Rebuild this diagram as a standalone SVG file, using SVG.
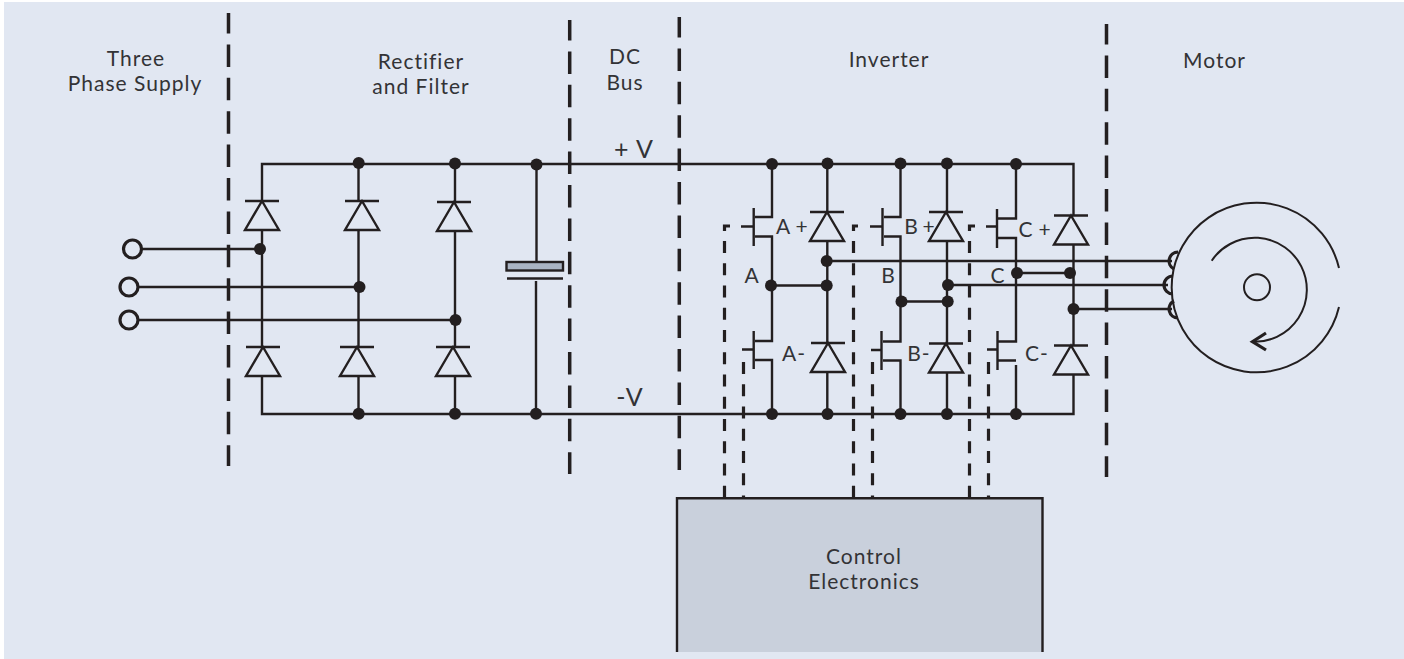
<svg xmlns="http://www.w3.org/2000/svg" width="1404" height="659" viewBox="0 0 1404 659">
<style>
text{font-family:"Lato","Noto Sans",sans-serif;font-size:21px;font-weight:400;letter-spacing:1px;fill:#333336;text-anchor:middle}
.v{font-size:25px}
.w{fill:none;stroke:#231f20;stroke-width:2.4}
.d{fill:none;stroke:#231f20;stroke-width:2.4}
.o{fill:none;stroke:#231f20;stroke-width:3.2}
.m{fill:none;stroke:#231f20;stroke-width:2}
.j{fill:#231f20}
.s{fill:none;stroke:#231f20;stroke-width:3.500;stroke-dasharray:22.500 10.900;stroke-dashoffset:2}
.c{fill:none;stroke:#231f20;stroke-width:3.200;stroke-dasharray:12 10.250}
.e{fill:none;stroke:#231f20;stroke-width:3.200}
</style>
<defs>
<g id="dio"><path class="d" d="M-17 0H17M0 0L-17 29H17Z"/></g>
<circle id="dot" class="j" r="6"/>
</defs>
<rect width="1404" height="659" fill="#fff"/>
<rect x="4" y="2" width="1400" height="657" fill="#e1e7f2"/>
<g id="section-dividers">
<path class="s" d="M228.500 13V466"/>
<path class="s" d="M569.700 20V474"/>
<path class="s" d="M679.300 17V470"/>
<path class="s" d="M1106.500 24V477"/>
</g>
<g id="connectors">
<path class="w" d="M262 201V164H1073.500V215M262 230V347M262 376V414H1073.500V375M1073.500 244V345"/>
<path class="w" d="M358.500 164V201M358.500 230V347M358.500 376V414"/>
<path class="w" d="M455 164V202M455 231V347M455 376V414"/>
<path class="w" d="M141.500 249H260M138 287H359M138 320H455"/>
<path class="w" d="M536.500 164V262M536 281V414"/>
<path class="w" d="M772 164V217H755M755 236.500H772V341H755M755 360H772V414"/>
<path class="w" d="M827.300 164V212M827.300 240V343M827.300 372V414M771 285.500H827M827 261H1172"/>
<path class="w" d="M900.500 164V217H884M884 236.500H900.500V341.500H883M883 360.500H900.500V414"/>
<path class="w" d="M947 164V212M947 240V344M947 372.500V414M901 301.500H947M948 285H1168"/>
<path class="w" d="M1016 164V218.500H998M998 238H1016V341.500H998M998 360.500H1016M1016 365V414M1017 273H1070M1073.500 309H1172"/>
<path class="w" d="M741 226.500H753.700M870 226.500H882.500M986 226.500H997M742 349.500H753.700M871 350H881.500M987 349.500H997.500"/>
<path class="e" d="M730 226H724.500V231M858 226H853.500V231M975 226H969.500V231"/>
<path class="c" d="M724.500 241V498M853.500 241V498M969.500 241V498M743.500 362V497M872.500 362V497M988.500 362V497"/>
</g>
<g id="terminals">
<circle class="o" cx="132.500" cy="249" r="9"/>
<circle class="o" cx="129" cy="287" r="9"/>
<circle class="o" cx="129" cy="320" r="9"/>
</g>
<g id="rectifier">
<use href="#dio" x="262" y="201"/><use href="#dio" x="362" y="201"/><use href="#dio" x="454" y="202"/>
<use href="#dio" x="263" y="347"/><use href="#dio" x="357" y="347"/><use href="#dio" x="453" y="347"/>
</g>
<g id="capacitor">
<rect x="506.500" y="262" width="56.500" height="8.500" fill="#aab4c3" stroke="#231f20" stroke-width="2.400"/>
<path class="w" d="M507 278.500H563"/>
</g>
<g id="inverter">
<use href="#dio" x="827" y="212"/><use href="#dio" x="946" y="212"/><use href="#dio" x="1071" y="215.500"/>
<use href="#dio" x="828" y="343"/><use href="#dio" x="946" y="343.500"/><use href="#dio" x="1071" y="345.500"/>
<path class="w" d="M753.700 208V246M882.500 208V246M997 209V248M753.700 331V369M881.500 331V370M997.500 331V370"/>
</g>
<g id="junctions">
<use href="#dot" x="358.700" y="163"/><use href="#dot" x="455" y="163.500"/><use href="#dot" x="536.500" y="164.500"/>
<use href="#dot" x="772" y="164"/><use href="#dot" x="827.500" y="163.500"/><use href="#dot" x="900.500" y="163.500"/><use href="#dot" x="947" y="163.500"/><use href="#dot" x="1016" y="164"/>
<use href="#dot" x="260" y="249"/><use href="#dot" x="359.500" y="287"/><use href="#dot" x="455.500" y="320"/>
<use href="#dot" x="358.700" y="413.700"/><use href="#dot" x="455" y="413.700"/><use href="#dot" x="536" y="413.700"/>
<use href="#dot" x="772" y="414"/><use href="#dot" x="827.500" y="414"/><use href="#dot" x="900.500" y="414"/><use href="#dot" x="947" y="414"/><use href="#dot" x="1016" y="414"/>
<use href="#dot" x="826.700" y="261"/><use href="#dot" x="771" y="285.500"/><use href="#dot" x="826.700" y="285.500"/>
<use href="#dot" x="948" y="285"/><use href="#dot" x="901.500" y="301.500"/><use href="#dot" x="947.700" y="301.500"/>
<use href="#dot" x="1017" y="273"/><use href="#dot" x="1070" y="273"/><use href="#dot" x="1073.500" y="309"/>
</g>
<g id="motor">
<path class="m" d="M1339 268A84.800 84.800 0 1 0 1339 307"/>
<path class="m" d="M1211.700 260.700A52 52 0 1 1 1252.500 341.700"/>
<path class="o" d="M1266 333L1252.500 341.700L1266 350"/>
<circle class="m" cx="1257" cy="287.300" r="13"/>
<path class="o" d="M1178 252A9 9 0 0 0 1174 269M1173 276A9 9 0 0 0 1173 294M1174 301A9 9 0 0 0 1178 318"/>
</g>
<g id="control-electronics">
<rect x="677" y="498" width="365" height="154" fill="#c9d0dc"/>
<path d="M677 652V498.300H1042.500V652" fill="none" stroke="#231f20" stroke-width="2.400"/>
<text x="864" y="563.500">Control<tspan x="864" dy="25.500">Electronics</tspan></text>
</g>
<g id="labels">
<text x="136" y="65.500">Three<tspan x="135" dy="25.500">Phase Supply</tspan></text>
<text x="421" y="68.500">Rectifier<tspan x="421" dy="25.500">and Filter</tspan></text>
<text x="625" y="64">DC<tspan x="625" dy="26">Bus</tspan></text>
<text x="889" y="67">Inverter</text><text x="1214.500" y="67.500">Motor</text>
<text class="v" x="634" y="158">+ V</text><text class="v" x="630" y="406">-V</text>
<text x="783.500" y="234">A</text><text x="802" y="234">+</text>
<text x="752" y="282.700">A</text>
<text x="911.500" y="234">B</text><text x="929" y="234">+</text>
<text x="1026" y="237.300">C</text><text x="1045" y="237.300">+</text>
<text x="888.500" y="282.700">B</text>
<text x="998" y="282.700">C</text>
<text x="794" y="361">A-</text><text x="919" y="361">B-</text><text x="1037" y="361">C-</text>
</g>
</svg>
